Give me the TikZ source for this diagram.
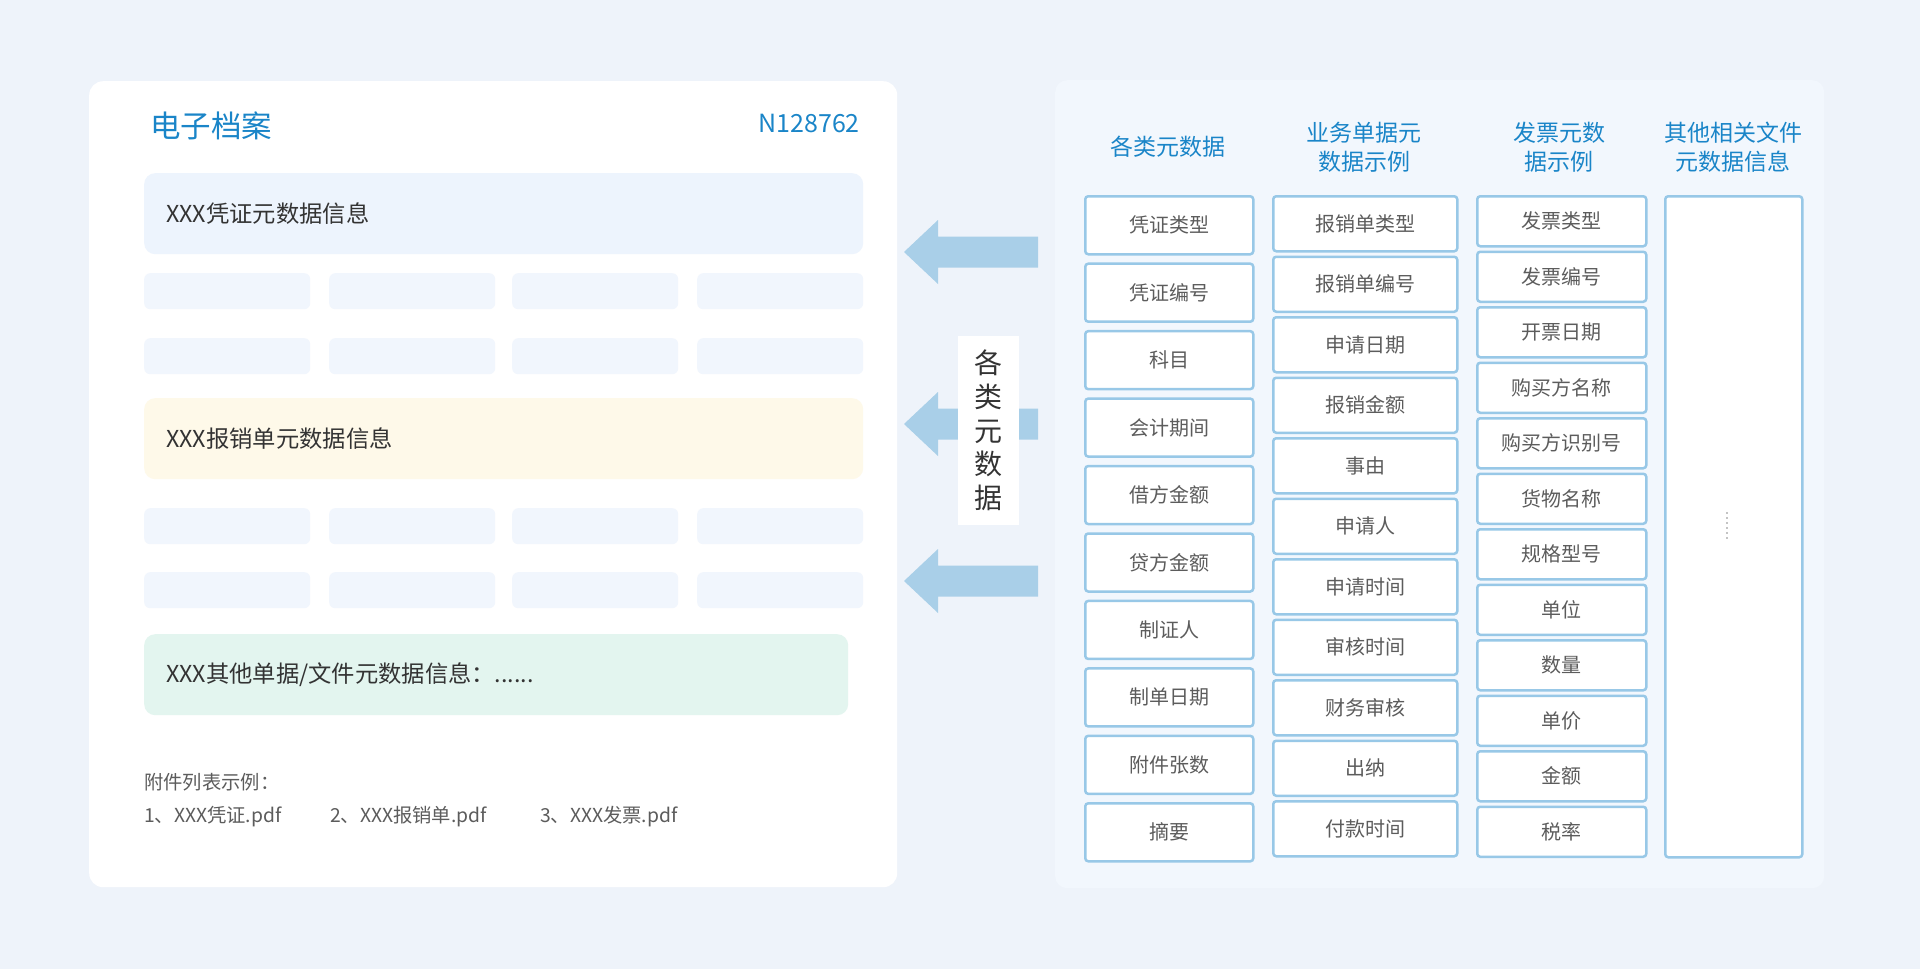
\documentclass[tikz,border=0pt]{standalone}
\usepackage{fontspec}
\setmainfont{Noto Sans CJK SC}
\definecolor{bgc}{HTML}{EEF3FA}
\definecolor{rpanelc}{HTML}{F2F7FD}
\definecolor{box1c}{HTML}{EDF4FD}
\definecolor{gridc}{HTML}{F1F6FD}
\definecolor{box2c}{HTML}{FEF9E9}
\definecolor{box3c}{HTML}{E3F5EF}
\definecolor{arrowc}{HTML}{A9CFE8}
\definecolor{borderc}{HTML}{98C8E7}
\definecolor{hdrblue}{HTML}{1A85C8}
\definecolor{textdark}{HTML}{333333}
\definecolor{textgray}{HTML}{5C5C5C}
\definecolor{dotc}{HTML}{888888}
\begin{document}
\begin{tikzpicture}[x=1pt,y=-1pt,
  panel/.style={fill=white, rounded corners=14pt, inner sep=0pt, anchor=north west},
  infobox/.style={rounded corners=11pt, inner sep=0pt, anchor=north west, minimum height=81pt},
  gridbox/.style={fill=gridc, rounded corners=6pt, inner sep=0pt, anchor=north west, minimum width=166pt, minimum height=36pt},
  lbltext/.style={anchor=west, inner sep=0pt, text=textdark, font=\fontsize{23.3}{28}\selectfont},
  smalltext/.style={anchor=west, inner sep=0pt, text=textgray, font=\fontsize{19.3}{23}\selectfont},
  hdr/.style={align=center, text=hdrblue, inner sep=0pt, font=\fontsize{23}{29}\selectfont},
  colbox/.style={draw=borderc, line width=2.5pt, fill=white, rounded corners=3pt, inner sep=0pt, anchor=north west, text=textgray, font=\fontsize{20}{24}\selectfont},
  arrowshape/.style={fill=arrowc}
]
\fill[bgc] (0,0) rectangle (1920,969);
\useasboundingbox (0,0) rectangle (1920,969);

% ---------- left panel ----------
\node[panel, minimum width=808pt, minimum height=806pt] (archive) at (89,81) {};
\node[anchor=west, inner sep=0pt, text=hdrblue, font=\fontsize{30.5}{35}\selectfont] (title) at (150,126) {电子档案};
\node[anchor=east, inner sep=0pt, text=hdrblue, font=\fontsize{25}{30}\selectfont] (code) at (860,123) {N128762};

\node[infobox, fill=box1c, minimum width=719pt] (voucher) at (144,173) {};
\node[lbltext] (voucherT) at ([xshift=22pt]voucher.west) {XXX凭证元数据信息};

\node[infobox, fill=box2c, minimum width=719pt] (expense) at (144,398) {};
\node[lbltext] (expenseT) at ([xshift=22pt]expense.west) {XXX报销单元数据信息};

\node[infobox, fill=box3c, minimum width=704pt] (other) at (144,634) {};
\node[lbltext] (otherT) at ([xshift=22pt]other.west) {XXX其他单据/文件元数据信息：......};

\foreach \r/\yy in {1/273,2/338,3/508,4/572}{
  \foreach \c/\xx in {1/144,2/329,3/512,4/697}{
    \node[gridbox] (g\r\c) at (\xx,\yy) {};
  }
}

\node[smalltext] (attachT) at (144,782) {附件列表示例：};
\node[smalltext] (att1) at (144,817) {1、XXX凭证.pdf};
\node[smalltext] (att2) at (330,817) {2、XXX报销单.pdf};
\node[smalltext] (att3) at (540,817) {3、XXX发票.pdf};

% ---------- arrows ----------
\foreach \cy in {252,424,581}{
  \fill[arrowshape] (904,\cy) -- (938,\cy-32) -- (938,\cy-15.5) -- (1038,\cy-15.5)
     -- (1038,\cy+15.5) -- (938,\cy+15.5) -- (938,\cy+32) -- cycle;
}
\node[fill=white, inner sep=0pt, minimum width=61pt, minimum height=189pt] (vbox) at (988.5,430.5) {};
\node[align=center, inner sep=0pt, text=textdark, font=\fontsize{28}{33.75}\selectfont] (vlabel) at (vbox.center) {各\\类\\元\\数\\据};

% ---------- right panel ----------
\node[fill=rpanelc, rounded corners=12pt, inner sep=0pt, anchor=north west, minimum width=769pt, minimum height=808pt] (meta) at (1055,80) {};

\node[hdr] (h1) at (1168,147) {各类元数据};
\node[hdr] (h2) at (1364,147.5) {业务单据元\\数据示例};
\node[hdr] (h3) at (1559,147.5) {发票元数\\据示例};
\node[hdr] (h4) at (1733,147.5) {其他相关文件\\元数据信息};

\foreach \t [count=\i] in {凭证类型,凭证编号,科目,会计期间,借方金额,贷方金额,制证人,制单日期,附件张数,摘要}{
  \pgfmathsetmacro\yy{195+(\i-1)*67.45}
  \node[colbox, minimum width=168pt, minimum height=58pt] (a\i) at (1084,\yy) {\t};
}
\foreach \t [count=\i] in {报销单类型,报销单编号,申请日期,报销金额,事由,申请人,申请时间,审核时间,财务审核,出纳,付款时间}{
  \pgfmathsetmacro\yy{195+(\i-1)*60.5}
  \node[colbox, minimum width=184pt, minimum height=55pt] (b\i) at (1272,\yy) {\t};
}
\foreach \t [count=\i] in {发票类型,发票编号,开票日期,购买方名称,购买方识别号,货物名称,规格型号,单位,数量,单价,金额,税率}{
  \pgfmathsetmacro\yy{195+(\i-1)*55.5}
  \node[colbox, minimum width=169pt, minimum height=50pt] (c\i) at (1476,\yy) {\t};
}
\node[colbox, minimum width=137pt, minimum height=661pt] (d1) at (1664,195) {};
\coordinate (dtop) at (1727,513);
\coordinate (dbot) at (1727,538);
\draw[dotc, line width=1.8pt, line cap=round, dash pattern=on 0pt off 5pt] (dtop) -- (dbot);
\end{tikzpicture}
\end{document}
